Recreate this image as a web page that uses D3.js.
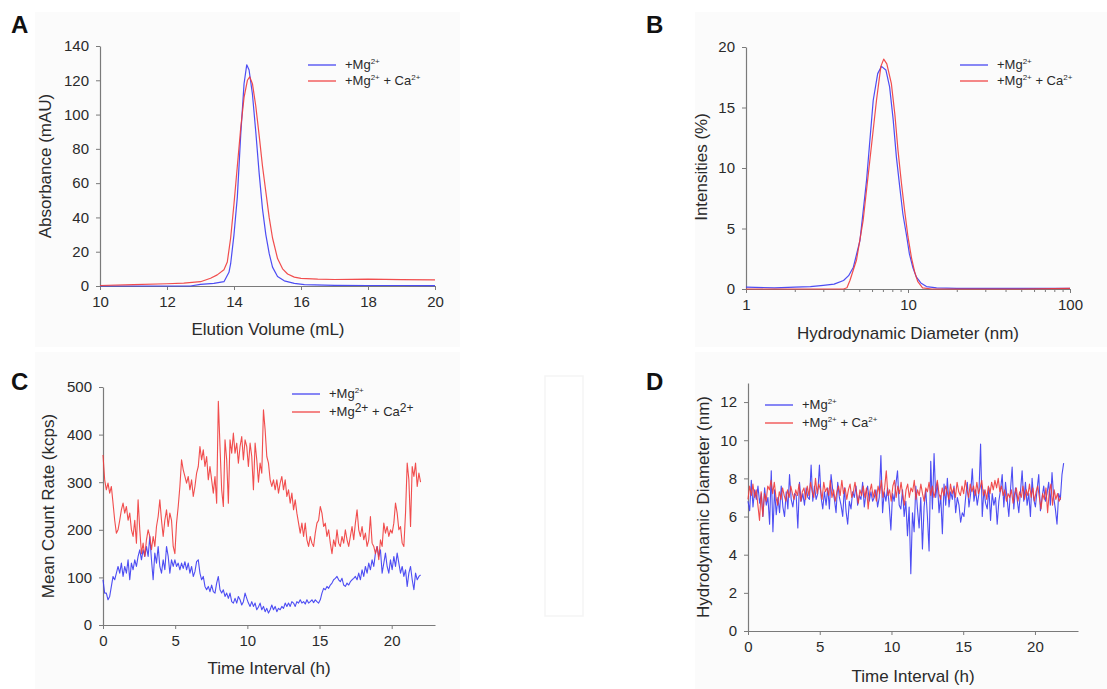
<!DOCTYPE html>
<html>
<head>
<meta charset="utf-8">
<script src="https://cdn.jsdelivr.net/npm/d3@7.9.0/dist/d3.min.js"></script>
<style>
  body { margin: 0; background: #fff; }
  svg text { font-family: "Liberation Sans", Arial, sans-serif; }
</style>
</head>
<body>
<svg id="fig" width="1107" height="689"></svg>
<script>
// --- DATA ---
// A: size exclusion chromatogram (elution volume mL, absorbance mAU)
const elutionMg = [10, 11, 12, 12.7, 13.0, 13.4, 13.7, 13.85, 13.9, 14.0, 14.1, 14.2, 14.3, 14.38, 14.45, 14.55, 14.65, 14.75, 14.85, 14.95, 15.05, 15.15, 15.3, 15.5, 15.8, 16.1, 17, 18, 19, 20];
const absorbMg  = [0, 0, 0, 0, 1, 1.5, 2.5, 8, 13, 30, 52, 88, 118, 129, 126, 112, 90, 66, 45, 30, 19, 11, 5.5, 3, 1.5, 0.8, 0.4, 0.3, 0.3, 0.2];
const elutionCa = [10, 11, 12, 12.5, 13.0, 13.3, 13.5, 13.7, 13.8, 13.9, 14.0, 14.1, 14.2, 14.3, 14.4, 14.47, 14.55, 14.65, 14.75, 14.85, 14.95, 15.05, 15.15, 15.3, 15.45, 15.6, 15.8, 16.0, 16.5, 17, 18, 19, 20];
const absorbCa  = [0.3, 0.8, 1.3, 1.7, 2.5, 4.5, 6.5, 9.5, 14, 28, 48, 70, 92, 110, 120, 122, 118, 105, 88, 70, 55, 40, 28, 16, 10, 7, 5.2, 4.5, 4.0, 3.8, 4.0, 3.7, 3.6];

// B: DLS size distribution (diameter nm, intensity %)
const diamMg = [1, 1.5, 2, 2.5, 3, 3.5, 4.0, 4.3, 4.6, 5.05, 5.55, 6.1, 6.5, 6.86, 7.3, 7.7, 8.1, 8.48, 8.9, 9.3, 9.8, 10.2, 10.7, 11.25, 12, 13, 15, 20, 30, 50, 100];
const intMg  = [0.15, 0.1, 0.15, 0.2, 0.3, 0.4, 0.7, 1.1, 1.8, 4, 9, 15.6, 17.8, 18.4, 18.1, 16.7, 14.0, 10.9, 8.4, 6.2, 4.4, 2.9, 1.8, 1.0, 0.5, 0.2, 0.1, 0.05, 0.05, 0.05, 0.05];
const diamCa = [1, 2, 3, 4.0, 4.2, 4.38, 4.81, 5.29, 5.81, 6.39, 6.8, 7.08, 7.4, 7.89, 8.3, 8.67, 9.1, 9.53, 10.0, 10.5, 11.0, 11.5, 12.3, 14, 20, 50, 100];
const intCa  = [0, 0, 0, 0, 0.1, 0.7, 2.4, 5.7, 10.6, 15.6, 18.4, 19.0, 18.6, 17, 14.4, 11.5, 8.8, 6.5, 4.3, 2.6, 1.4, 0.6, 0.1, 0, 0, 0, 0.05];

// C: mean count rate (kcps) over 0-22 h, evenly sampled
const countMg = [95, 67, 67, 53, 60, 81, 102, 95, 109, 123, 109, 130, 102, 123, 109, 137, 95, 130, 116, 137, 123, 144, 158, 137, 158, 144, 165, 144, 186, 137, 95, 151, 130, 165, 123, 109, 137, 116, 165, 144, 109, 137, 123, 137, 123, 130, 116, 130, 119, 133, 116, 130, 109, 123, 102, 112, 133, 137, 109, 95, 102, 81, 74, 81, 70, 84, 70, 67, 88, 102, 74, 67, 74, 60, 67, 56, 67, 49, 46, 56, 46, 60, 53, 42, 49, 67, 56, 46, 39, 49, 39, 46, 32, 38,
  46, 32, 39, 28, 35, 25, 32, 42, 32, 39, 28, 35, 32, 39, 35, 46, 39, 46, 39, 49, 46, 39, 49, 46, 53, 46, 49, 44, 53, 46, 49, 53, 47, 53, 49, 46, 53, 67, 77, 74, 81, 77, 84, 88, 95, 98, 102, 95, 91, 98, 84, 81, 88, 84, 91, 95, 98, 102, 95, 109, 95, 116, 102, 123, 109, 130, 116, 137, 123, 151, 165, 144, 158, 109, 130, 151, 123, 109, 137, 116, 144, 123, 151, 130, 109, 123, 102, 116, 81, 109, 123, 95, 74, 109, 95, 102, 105];
const countCa = [357, 305, 284, 298, 277, 291, 256, 220, 193, 200, 220, 242, 256, 235, 249, 220, 235, 200, 186, 220, 172, 263, 200, 150, 172, 144, 179, 200, 186, 158, 186, 165, 207, 228, 263, 220, 186, 220, 242, 207, 235, 220, 165, 150, 214, 249, 291, 347, 326, 312, 298, 312, 284, 305, 270, 291, 319, 333, 375, 347, 368, 333, 354, 305, 333, 305, 277, 312, 256, 470, 375, 284, 249, 389, 347, 256, 389, 361, 403, 361, 382, 340, 375, 396, 347, 389, 375, 333, 382, 354, 284, 382, 347, 300,
  340, 319, 452, 410, 354, 340, 305, 291, 305, 284, 305, 277, 298, 312, 284, 305, 270, 284, 256, 277, 242, 263, 235, 214, 193, 214, 186, 214, 179, 165, 186, 172, 165, 193, 214, 220, 249, 235, 207, 214, 186, 200, 172, 150, 179, 165, 200, 172, 165, 186, 172, 200, 179, 165, 186, 207, 179, 214, 242, 200, 186, 207, 179, 193, 165, 179, 228, 172, 165, 150, 165, 137, 179, 165, 214, 193, 207, 186, 200, 193, 214, 256, 235, 200, 207, 172, 165, 235, 340, 305, 207, 333, 312, 340, 291, 319, 300];

// D: hydrodynamic diameter (nm) over 0-22 h, evenly sampled
const diamTimeMg = [6.8, 6.3, 7.9, 6.5, 7.4, 6.9, 7.6, 6.7, 7.2, 6.0, 7.5, 6.6, 7.0, 5.6, 8.4, 5.2, 7.4, 6.1, 7.0, 6.2, 7.6, 6.5, 6.0, 7.3, 6.4, 8.2, 6.9, 6.5, 7.2, 7.1, 5.4, 7.8, 6.8, 7.2, 6.6, 7.5, 7.0, 6.9, 8.7, 6.8, 7.6, 6.9, 7.2, 8.7, 7.0, 6.4, 7.3, 6.6, 7.5, 6.4, 8.2, 7.4, 6.9, 6.2, 7.8, 7.0, 6.6, 6.0, 7.5, 6.3, 5.6, 6.8, 6.4, 7.3, 7.0, 7.6, 6.6, 7.1, 6.9, 7.8, 6.5, 7.2, 7.6, 6.8, 7.3, 6.8, 7.0, 7.4, 6.5, 7.0, 9.2, 6.2, 7.3, 6.8, 7.5, 6.6, 5.3, 7.2, 6.8, 7.7, 8.4, 6.6, 6.4, 7.4, 6.0, 6.8, 5.0, 6.5, 3.0, 6.2, 5.2, 7.6, 6.4, 5.4, 7.0, 4.3, 6.5, 7.4, 6.0, 4.2, 8.9, 6.4, 9.3, 7.0, 7.8, 6.2, 7.1, 5.1, 7.7, 6.6, 8.0, 6.5, 7.3, 6.9, 7.6, 6.2, 7.0, 6.6, 5.7, 6.2, 6.0, 7.0, 7.8, 6.5, 7.2, 8.5, 6.8, 7.4, 6.6, 7.2, 9.8, 6.0, 7.4, 6.7, 6.4, 7.5, 5.8, 7.2, 6.6, 7.0, 5.6, 6.8, 7.4, 8.2, 6.5, 7.8, 6.9, 6.0, 7.4, 8.6, 6.4, 7.5, 6.9, 6.2, 7.3, 8.4, 6.8, 7.8, 6.6, 7.2, 6.0, 8.0, 6.9, 6.5, 7.4, 8.2, 6.3, 7.0, 7.6, 6.8, 7.2, 7.8, 6.6, 8.3, 7.0, 6.4, 5.6, 7.2, 6.9, 8.2, 8.8];
const diamTimeCa = [6.9, 7.6, 7.1, 7.7, 7.0, 7.4, 6.6, 5.8, 7.3, 6.0, 7.2, 6.8, 7.6, 7.4, 7.9, 7.2, 7.8, 7.0, 6.6, 7.3, 6.9, 7.5, 7.1, 6.8, 7.4, 7.0, 7.6, 7.2, 6.9, 7.4, 7.1, 7.7, 6.8, 7.3, 7.5, 6.9, 7.6, 7.1, 7.8, 7.3, 7.0, 8.0, 7.2, 7.7, 7.4, 6.9, 7.8, 7.3, 7.5, 7.1, 7.9, 7.0, 7.4, 6.8, 7.3, 7.6, 7.1, 7.9, 7.2, 7.5, 6.9, 7.4, 7.7, 7.0, 7.3, 7.8, 7.2, 6.7, 7.4, 7.1, 7.6, 7.0, 7.5, 6.4, 7.3, 7.7, 7.0, 7.4, 6.8, 7.6, 7.2, 7.9, 7.0, 7.5, 8.4, 7.1, 7.4, 6.8, 7.6, 7.9, 7.0, 7.6, 7.2, 7.8, 7.1, 6.6, 7.4, 7.7, 7.0, 7.5, 7.3, 7.9, 6.9, 7.4, 7.1, 7.7, 7.2, 6.8, 7.5, 7.3, 7.8, 7.1, 7.6, 7.0, 7.4, 7.9, 7.2, 6.9, 7.5, 7.1, 7.6, 7.3, 6.9, 7.7, 7.2, 7.5, 7.0, 7.8, 7.3, 7.1, 7.6, 7.2, 7.9, 7.4, 7.0, 7.7, 7.3, 7.6, 7.1, 7.8, 7.2, 7.5, 7.9, 7.1, 7.4, 6.9, 7.6, 7.2, 7.8, 7.4, 7.9, 7.5, 8.0, 7.3, 7.6, 7.1, 7.4, 6.8, 7.2, 7.0, 7.4, 6.7, 7.2, 7.5, 6.8, 7.3, 7.0, 7.6, 6.9, 7.4, 7.1, 7.7, 7.0, 7.5, 6.8, 7.3, 7.6, 7.0, 6.4, 7.2, 6.9, 7.5, 6.2, 7.3, 7.7, 6.6, 7.4, 6.9, 7.2, 6.8, 7.0];

const ticksA = [10, 12, 14, 16, 18, 20];
const yTicksA = [0, 20, 40, 60, 80, 100, 120, 140];
const ticksB = [1, 10, 100];
const minorB = [2, 3, 4, 5, 6, 7, 8, 9, 20, 30, 40, 50, 60, 70, 80, 90];
const yTicksB = [0, 5, 10, 15, 20];
const ticksHours = [0, 5, 10, 15, 20];
const yTicksC = [0, 100, 200, 300, 400, 500];
const yTicksD = [0, 2, 4, 6, 8, 10, 12];

const BLUE = '#3a3af2';
const RED = '#f03a3a';
const AXIS = '#7a7a7a';
const TEXT = '#2a2a2a';

const svg = d3.select('#fig');

// faint panel backgrounds like the scanned figure
[[35, 12, 425, 335], [695, 12, 412, 335], [35, 352, 425, 337], [695, 352, 412, 337]].forEach(([x, y, w, h]) => {
    svg.append('rect').attr('x', x).attr('y', y).attr('width', w).attr('height', h).attr('fill', '#fbfbfb');
});
svg.append('rect').attr('x', 545).attr('y', 376).attr('width', 38).attr('height', 240)
    .attr('fill', 'none').attr('stroke', '#f5f5f5').attr('stroke-width', 1.5);

// --- HELPERS ---
function styleAxis(g) {
    g.attr('font-family', null).attr('font-size', null);
    g.select('.domain').attr('stroke', AXIS).attr('stroke-width', 1.2);
    g.selectAll('.tick line').attr('stroke', AXIS);
    g.selectAll('.tick text').attr('fill', TEXT).style('font-size', '15px');
}

function drawPanel(p) {
    const gx = svg.append('g').attr('transform', `translate(0,${p.y.range()[0]})`)
        .call(d3.axisBottom(p.x).tickValues(p.xTicks).tickFormat(p.fmt || d3.format('d')).tickSize(4).tickPadding(6).tickSizeOuter(0));
    styleAxis(gx);
    if (p.minor) {
        const gm = svg.append('g').attr('transform', `translate(0,${p.y.range()[0]})`)
            .call(d3.axisBottom(p.x).tickValues(p.minor).tickFormat('').tickSize(3).tickSizeOuter(0));
        gm.select('.domain').remove();
        gm.selectAll('.tick line').attr('stroke', AXIS);
    }
    const gy = svg.append('g').attr('transform', `translate(${p.x.range()[0]},0)`)
        .call(d3.axisLeft(p.y).tickValues(p.yTicks).tickSize(4).tickPadding(7).tickSizeOuter(0));
    styleAxis(gy);

    p.series.forEach(s => {
        const line = d3.line().x(d => p.x(d[0])).y(d => p.y(d[1]));
        svg.append('path').datum(s.pts).attr('d', line)
            .attr('fill', 'none').attr('stroke', s.color).attr('stroke-width', p.lw || 1.2)
            .attr('stroke-linejoin', 'round').attr('opacity', 0.9);
    });

    // axis titles
    svg.append('text').attr('x', p.xTitlePos[0]).attr('y', p.xTitlePos[1])
        .attr('text-anchor', 'middle').attr('fill', TEXT).style('font-size', '17px').text(p.xTitle);
    svg.append('text').attr('transform', `translate(${p.yTitlePos[0]},${p.yTitlePos[1]}) rotate(-90)`)
        .attr('text-anchor', 'middle').attr('dominant-baseline', 'middle').attr('fill', TEXT)
        .style('font-size', '17px').text(p.yTitle);

    // panel letter
    svg.append('text').attr('x', p.letterPos[0]).attr('y', p.letterPos[1])
        .attr('fill', '#111').style('font-size', '24px').style('font-weight', 'bold').text(p.letter);

    // legend
    const lg = p.legend;
    p.series.forEach((s, i) => {
        const ly = lg.y + i * lg.gap;
        svg.append('line').attr('x1', lg.x).attr('x2', lg.x + 28).attr('y1', ly).attr('y2', ly)
            .attr('stroke', s.color).attr('stroke-width', 1.2);
        const t = svg.append('text').attr('x', lg.x + 37).attr('y', ly + 4).attr('fill', TEXT).style('font-size', '13px');
        const supSize = (i === 1 && lg.bigSup) ? '12px' : '8px';
        const rise = (i === 1 && lg.bigSup) ? -4 : -5;
        t.append('tspan').text('+Mg');
        t.append('tspan').attr('dy', rise).style('font-size', i === 0 ? '8px' : supSize).text('2+');
        if (i === 1) {
            t.append('tspan').attr('dy', -rise).text(' + Ca');
            t.append('tspan').attr('dy', rise).style('font-size', supSize).text('2+');
        }
    });
}

const zipIdx = (vals, span) => vals.map((v, i) => [i * span / (vals.length - 1), v]);

// --- PANEL A ---
drawPanel({
    x: d3.scaleLinear().domain([10, 20]).range([100, 435]),
    y: d3.scaleLinear().domain([0, 140]).range([286, 46]),
    xTicks: ticksA, yTicks: yTicksA,
    series: [
        { color: BLUE, pts: d3.zip(elutionMg, absorbMg) },
        { color: RED, pts: d3.zip(elutionCa, absorbCa) }
    ],
    xTitle: 'Elution Volume (mL)', xTitlePos: [268, 335],
    yTitle: 'Absorbance (mAU)', yTitlePos: [47, 166],
    letter: 'A', letterPos: [11, 33],
    legend: { x: 308, y: 65, gap: 16 }
});

// --- PANEL B ---
drawPanel({
    x: d3.scaleLog().domain([1, 100]).range([746, 1070]),
    y: d3.scaleLinear().domain([0, 20]).range([289, 47]),
    xTicks: ticksB, minor: minorB, yTicks: yTicksB,
    series: [
        { color: BLUE, pts: d3.zip(diamMg, intMg) },
        { color: RED, pts: d3.zip(diamCa, intCa) }
    ],
    xTitle: 'Hydrodynamic Diameter (nm)', xTitlePos: [908, 339],
    yTitle: 'Intensities (%)', yTitlePos: [703, 167],
    letter: 'B', letterPos: [646, 33],
    legend: { x: 960, y: 65, gap: 16 }
});

// --- PANEL C ---
drawPanel({
    x: d3.scaleLinear().domain([0, 23]).range([103, 435]),
    y: d3.scaleLinear().domain([0, 500]).range([625, 387]),
    xTicks: ticksHours, yTicks: yTicksC, lw: 1.1,
    series: [
        { color: BLUE, pts: zipIdx(countMg, 22) },
        { color: RED, pts: zipIdx(countCa, 22) }
    ],
    xTitle: 'Time Interval (h)', xTitlePos: [269, 674],
    yTitle: 'Mean Count Rate (kcps)', yTitlePos: [50, 506],
    letter: 'C', letterPos: [11, 390],
    legend: { x: 292, y: 394, gap: 18, bigSup: true }
});

// --- PANEL D ---
drawPanel({
    x: d3.scaleLinear().domain([0, 23]).range([748, 1078]),
    y: d3.scaleLinear().domain([0, 13]).range([631, 383]),
    xTicks: ticksHours, yTicks: yTicksD, lw: 1.1,
    series: [
        { color: BLUE, pts: zipIdx(diamTimeMg, 22) },
        { color: RED, pts: zipIdx(diamTimeCa, 21.8) }
    ],
    xTitle: 'Time Interval (h)', xTitlePos: [913, 682],
    yTitle: 'Hydrodynamic Diameter (nm)', yTitlePos: [705, 507],
    letter: 'D', letterPos: [646, 390],
    legend: { x: 765, y: 405, gap: 18 }
});
</script>
</body>
</html>
